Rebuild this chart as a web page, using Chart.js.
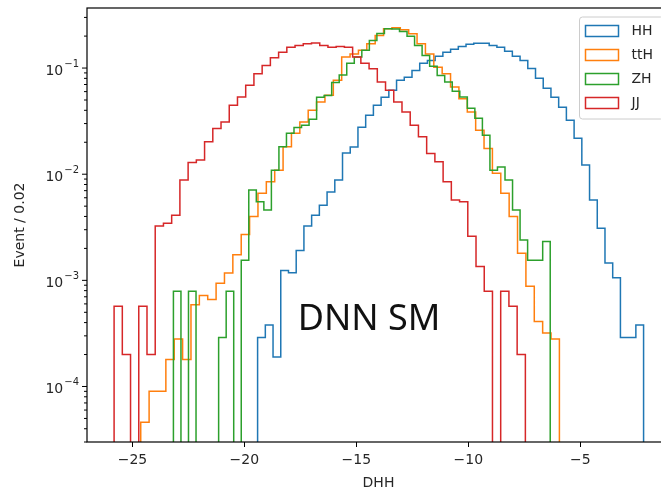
<!DOCTYPE html>
<html>
<head>
<meta charset="utf-8">
<script src="https://cdn.jsdelivr.net/npm/chart.js@4.4.0/dist/chart.umd.min.js"></script>
<style>
  html, body { margin: 0; padding: 0; background: #fff; overflow: hidden; }
  #wrap { width: 672px; height: 491px; }
</style>
</head>
<body>
<div id="wrap"><canvas id="chart" width="672" height="491"></canvas></div>
<script>
// step histograms, 50 bins per sample, each sample binned over its own range
const labels = ['HH', 'ttH', 'ZH', 'JJ'];
const colors = ['#1f77b4', '#ff7f0e', '#2ca02c', '#d62728'];
const binRanges = [[-19.41, -2.17], [-24.63, -5.93], [-23.17, -6.34], [-25.82, -7.45]];

const hh = [2.9e-4, 3.8e-4, 1.9e-4, 1.24e-3, 1.18e-3, 1.91e-3, 3.25e-3, 4.1e-3, 5.1e-3, 6.8e-3,
  8.8e-3, 0.0158, 0.018, 0.0277, 0.0359, 0.0446, 0.0531, 0.0617, 0.0766, 0.0818,
  0.0951, 0.111, 0.118, 0.129, 0.141, 0.150, 0.160, 0.168, 0.171, 0.171,
  0.163, 0.157, 0.144, 0.129, 0.118, 0.0993, 0.080, 0.0644, 0.0531, 0.0427,
  0.0322, 0.0218, 0.0122, 0.0057, 0.0031, 0.00146, 0.00106, 2.9e-4, 2.9e-4, 3.8e-4];

const tth = [4.6e-5, 9.0e-5, 9.0e-5, 1.8e-4, 2.8e-4, 1.8e-4, 5.9e-4, 7.2e-4, 6.6e-4, 9.4e-4,
  1.17e-3, 1.74e-3, 2.7e-3, 4.0e-3, 6.6e-3, 8.5e-3, 0.0109, 0.0181, 0.0243, 0.031,
  0.040, 0.048, 0.0553, 0.0766, 0.127, 0.136, 0.147, 0.169, 0.203, 0.234,
  0.240, 0.230, 0.210, 0.169, 0.136, 0.102, 0.0886, 0.0662, 0.0515, 0.0386,
  0.0259, 0.0175, 0.0102, 0.0066, 0.0040, 0.0018, 8.8e-4, 4.1e-4, 3.2e-4, 2.8e-4];

const zh = [7.9e-4, 0, 7.9e-4, 0, 0, 0, 2.9e-4, 7.9e-4, 0, 1.55e-3,
  7.1e-3, 5.5e-3, 4.6e-3, 0.0109, 0.0181, 0.0243, 0.0275, 0.029, 0.033, 0.053,
  0.055, 0.073, 0.086, 0.111, 0.127, 0.147, 0.182, 0.212, 0.234, 0.233,
  0.221, 0.199, 0.163, 0.131, 0.104, 0.0853, 0.0738, 0.0604, 0.0533, 0.0418,
  0.0336, 0.0233, 0.0109, 0.0117, 0.0088, 0.0046, 0.0024, 0.00155, 0.00155, 0.00232];

const jj = [5.7e-4, 2.0e-4, 0, 5.7e-4, 2.0e-4, 3.25e-3, 3.45e-3, 4.1e-3, 8.8e-3, 0.0129,
  0.0136, 0.0202, 0.0269, 0.031, 0.0446, 0.0533, 0.0687, 0.0886, 0.106, 0.125,
  0.141, 0.157, 0.163, 0.169, 0.172, 0.163, 0.157, 0.160, 0.157, 0.127,
  0.111, 0.0987, 0.0738, 0.0617, 0.0479, 0.0386, 0.0289, 0.0225, 0.0157, 0.0131,
  0.0085, 0.0057, 0.0055, 0.0026, 0.00135, 7.9e-4, 0, 7.9e-4, 5.7e-4, 2.0e-4];

const xTicks = [-25, -20, -15, -10, -5];
const yTicks = [1e-4, 1e-3, 1e-2, 1e-1];
const xRange = [-27.03, -0.99];
const yRange = [3.0e-5, 0.368];
const note = { text: 'DNN SM', x: -17.62, y: 3.4e-4 };

const FONT = '"DejaVu Sans", sans-serif';
const FLOOR = 1e-7; // empty bins drop below the axis, like matplotlib on log scale

function stepPoints(values, lo, hi) {
  const w = (hi - lo) / values.length;
  const pts = [{ x: lo, y: FLOOR }];
  values.forEach((v, i) => {
    const y = v > 0 ? v : FLOOR;
    pts.push({ x: lo + i * w, y: y }, { x: lo + (i + 1) * w, y: y });
  });
  pts.push({ x: hi, y: FLOOR });
  return pts;
}

const series = [hh, tth, zh, jj];
const datasets = series.map((vals, i) => ({
  label: labels[i],
  data: stepPoints(vals, binRanges[i][0], binRanges[i][1]),
  borderColor: colors[i],
  borderWidth: 1.5,
  pointRadius: 0,
  tension: 0,
  fill: false,
  order: series.length - i
}));

const mplDecor = {
  id: 'mplDecor',
  afterDraw(chart) {
    const ctx = chart.ctx;
    const a = chart.chartArea;
    const xs = chart.scales.x, ys = chart.scales.y;
    ctx.save();

    // spines
    ctx.strokeStyle = '#000';
    ctx.lineWidth = 1.2;
    ctx.strokeRect(a.left, a.top, a.right - a.left, a.bottom - a.top);

    // y ticks, major + minor
    ctx.lineWidth = 1;
    for (let e = -5; e <= 0; e++) {
      for (let k = 1; k <= 9; k++) {
        const v = k * Math.pow(10, e);
        if (v < yRange[0] || v > yRange[1]) continue;
        const py = ys.getPixelForValue(v);
        const len = k === 1 ? 5 : 3;
        ctx.beginPath();
        ctx.moveTo(a.left - len, py);
        ctx.lineTo(a.left, py);
        ctx.stroke();
      }
    }

    // y tick labels 10^-n
    ctx.fillStyle = '#262626';
    ctx.textBaseline = 'middle';
    ctx.textAlign = 'left';
    yTicks.forEach(v => {
      const py = ys.getPixelForValue(v);
      const sup = '\u2212' + Math.abs(Math.round(Math.log10(v)));
      ctx.font = '10px ' + FONT;
      const ws = ctx.measureText(sup).width;
      ctx.font = '14px ' + FONT;
      const wb = ctx.measureText('10').width;
      const right = a.left - 8;
      ctx.fillText('10', right - ws - wb - 1, py + 3);
      ctx.font = '10px ' + FONT;
      ctx.fillText(sup, right - ws, py - 4);
    });

    // axis titles
    ctx.font = '14px ' + FONT;
    ctx.textAlign = 'center';
    ctx.fillText('DHH', (a.left + a.right) / 2, 483);
    ctx.save();
    ctx.translate(20, (a.top + a.bottom) / 2);
    ctx.rotate(-Math.PI / 2);
    ctx.fillText('Event / 0.02', 0, 0);
    ctx.restore();

    // legend
    const lx = a.right - 90.5, ly = a.top + 9, lw = 84, lh = 102;
    ctx.fillStyle = 'rgba(255,255,255,0.8)';
    ctx.strokeStyle = '#cccccc';
    ctx.lineWidth = 1;
    ctx.beginPath();
    ctx.roundRect(lx, ly, lw, lh, 3);
    ctx.fill();
    ctx.stroke();
    ctx.textAlign = 'left';
    labels.forEach((lab, i) => {
      const cy = ly + 14 + i * 24;
      ctx.strokeStyle = colors[i];
      ctx.lineWidth = 1.5;
      ctx.strokeRect(lx + 6, cy - 5.5, 33, 11);
      ctx.fillStyle = '#262626';
      ctx.font = '14px ' + FONT;
      ctx.fillText(lab, lx + 52, cy);
    });

    // annotation
    ctx.fillStyle = '#111';
    ctx.font = '36px "Noto Sans", sans-serif';
    ctx.textBaseline = 'alphabetic';
    ctx.fillText(note.text, xs.getPixelForValue(note.x), ys.getPixelForValue(note.y));

    ctx.restore();
  }
};

new Chart(document.getElementById('chart'), {
  type: 'line',
  data: { datasets: datasets },
  options: {
    responsive: false,
    devicePixelRatio: 1,
    animation: false,
    events: [],
    layout: { padding: { top: 8, right: 2, left: 0, bottom: 0 } },
    plugins: { legend: { display: false }, tooltip: { enabled: false } },
    scales: {
      x: {
        type: 'linear',
        min: xRange[0],
        max: xRange[1],
        bounds: 'data',
        afterBuildTicks: s => { s.ticks = xTicks.map(v => ({ value: v })); },
        afterFit: s => { s.height = 49; },
        border: { display: false },
        grid: { display: true, drawOnChartArea: false, drawTicks: true, tickLength: 5, tickColor: '#000', tickWidth: 1 },
        ticks: {
          padding: 5,
          color: '#262626',
          font: { family: 'DejaVu Sans', size: 14 },
          maxRotation: 0,
          autoSkip: false,
          callback: v => String(v).replace('-', '\u2212')
        }
      },
      y: {
        type: 'logarithmic',
        min: yRange[0],
        max: yRange[1],
        bounds: 'data',
        afterFit: s => { s.width = 87; },
        border: { display: false },
        grid: { display: false },
        ticks: { display: false }
      }
    }
  },
  plugins: [mplDecor]
});
</script>
</body>
</html>
